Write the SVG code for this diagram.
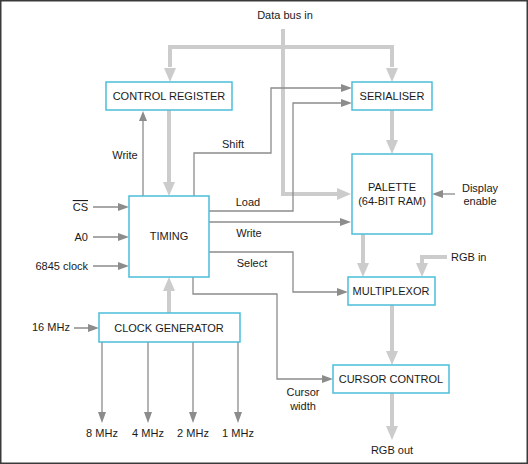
<svg xmlns="http://www.w3.org/2000/svg" width="528" height="464" viewBox="0 0 528 464">
<style>
.box{fill:#fff;stroke:#4bbdd8;stroke-width:1.5}
.t{font-family:"Liberation Sans",Arial,sans-serif;font-size:11px;fill:#1a1a1a}
.m{text-anchor:middle}
.e{text-anchor:end}
.thin{fill:none;stroke:#8c8c8c;stroke-width:1.3}
.thick{fill:none;stroke:#cccccc;stroke-width:4}
.ah{fill:#8c8c8c}
.bh{fill:#cccccc}
</style>
<rect x="0.75" y="0.75" width="526.5" height="462.5" fill="#fff" stroke="#3a3a3a" stroke-width="1.5"/>
<g id="connectors">
  <!-- data bus -->
  <path class="thick" d="M283 29 V194 H338"/>
  <polygon class="bh" points="351,194 337,188 337,200"/>
  <path class="thick" d="M170 67 V47 H392 V67"/>
  <polygon class="bh" points="170,82 164,68 176,68"/>
  <polygon class="bh" points="392,82 386,68 398,68"/>
  <!-- control register to timing -->
  <path class="thick" d="M169 110 V182"/>
  <polygon class="bh" points="169,196 163,182 175,182"/>
  <!-- timing write to control register -->
  <path class="thin" d="M143 196 V120"/>
  <polygon class="ah" points="143,111 139,121 147,121"/>
  <!-- shift -->
  <path class="thin" d="M194 196 V153 H271 V88 H342"/>
  <polygon class="ah" points="352,88 341,84 341,92"/>
  <!-- load -->
  <path class="thin" d="M209 211 H293 V103 H342"/>
  <polygon class="ah" points="352,103 341,99 341,107"/>
  <!-- write to palette -->
  <path class="thin" d="M209 222 H341"/>
  <polygon class="ah" points="351,222 340,218 340,226"/>
  <!-- select -->
  <path class="thin" d="M209 252 H293 V292 H338"/>
  <polygon class="ah" points="348,292 337,288 337,296"/>
  <!-- cursor width -->
  <path class="thin" d="M193 277 V294 H277 V379 H323"/>
  <polygon class="ah" points="333,379 322,375 322,383"/>
  <!-- serialiser to palette -->
  <path class="thick" d="M392 110 V140"/>
  <polygon class="bh" points="392,154 386,140 398,140"/>
  <!-- display enable -->
  <path class="thin" d="M455 194 H442"/>
  <polygon class="ah" points="432,194 443,190 443,198"/>
  <!-- palette to multiplexor -->
  <path class="thick" d="M363 234 V263"/>
  <polygon class="bh" points="363,277 357,263 369,263"/>
  <!-- RGB in -->
  <path class="thick" d="M447 257 H422 V263"/>
  <polygon class="bh" points="422,277 416,263 428,263"/>
  <!-- multiplexor to cursor control -->
  <path class="thick" d="M392 305 V351"/>
  <polygon class="bh" points="392,365 386,351 398,351"/>
  <!-- RGB out -->
  <path class="thick" d="M392 393 V426"/>
  <polygon class="bh" points="392,440 386,426 398,426"/>
  <!-- clock generator to timing -->
  <path class="thick" d="M169 313 V291"/>
  <polygon class="bh" points="169,277 163,291 175,291"/>
  <!-- left inputs -->
  <path class="thin" d="M93 207 H119 M93 237 H119 M93 266 H119 M74 328 H89"/>
  <polygon class="ah" points="129,207 118,203 118,211"/>
  <polygon class="ah" points="129,237 118,233 118,241"/>
  <polygon class="ah" points="129,266 118,262 118,270"/>
  <polygon class="ah" points="99,328 88,324 88,332"/>
  <!-- clock outputs -->
  <path class="thin" d="M102 342 V413 M148 342 V413 M193 342 V413 M238 342 V413"/>
  <polygon class="ah" points="102,423 98,412 106,412"/>
  <polygon class="ah" points="148,423 144,412 152,412"/>
  <polygon class="ah" points="193,423 189,412 197,412"/>
  <polygon class="ah" points="238,423 234,412 242,412"/>
</g>
<g id="labels">
  <text class="t m" x="285" y="19">Data bus in</text>
  <text class="t m" x="125" y="159">Write</text>
  <text class="t m" x="233" y="148">Shift</text>
  <text class="t m" x="248" y="206">Load</text>
  <text class="t m" x="249" y="237">Write</text>
  <text class="t m" x="252" y="267">Select</text>
  <text class="t e" x="88" y="211" text-decoration="overline">CS</text>
  <text class="t e" x="88" y="241">A0</text>
  <text class="t e" x="88" y="270">6845 clock</text>
  <text class="t" x="32" y="331">16 MHz</text>
  <text class="t m" x="480" y="192">Display</text>
  <text class="t m" x="480" y="205">enable</text>
  <text class="t" x="451" y="261">RGB in</text>
  <text class="t m" x="303" y="396">Cursor</text>
  <text class="t m" x="303" y="410">width</text>
  <text class="t m" x="392" y="454">RGB out</text>
  <text class="t m" x="102" y="437">8 MHz</text>
  <text class="t m" x="148" y="437">4 MHz</text>
  <text class="t m" x="193" y="437">2 MHz</text>
  <text class="t m" x="238" y="437">1 MHz</text>
</g>
<g id="control-register">
  <rect class="box" x="106" y="82" width="126" height="28"/>
  <text class="t m" x="169" y="100">CONTROL REGISTER</text>
</g>
<g id="serialiser">
  <rect class="box" x="352" y="82" width="80" height="28"/>
  <text class="t m" x="392" y="100">SERIALISER</text>
</g>
<g id="timing">
  <rect class="box" x="129" y="196" width="80" height="81"/>
  <text class="t m" x="169" y="240">TIMING</text>
</g>
<g id="palette">
  <rect class="box" x="352" y="154" width="80" height="80"/>
  <text class="t m" x="392" y="191">PALETTE</text>
  <text class="t m" x="392" y="205">(64-BIT RAM)</text>
</g>
<g id="multiplexor">
  <rect class="box" x="348" y="277" width="87" height="28"/>
  <text class="t m" x="391" y="295">MULTIPLEXOR</text>
</g>
<g id="cursor-control">
  <rect class="box" x="333" y="365" width="116" height="28"/>
  <text class="t m" x="391" y="383">CURSOR CONTROL</text>
</g>
<g id="clock-generator">
  <rect class="box" x="99" y="313" width="141" height="29"/>
  <text class="t m" x="169" y="332">CLOCK GENERATOR</text>
</g>
</svg>
